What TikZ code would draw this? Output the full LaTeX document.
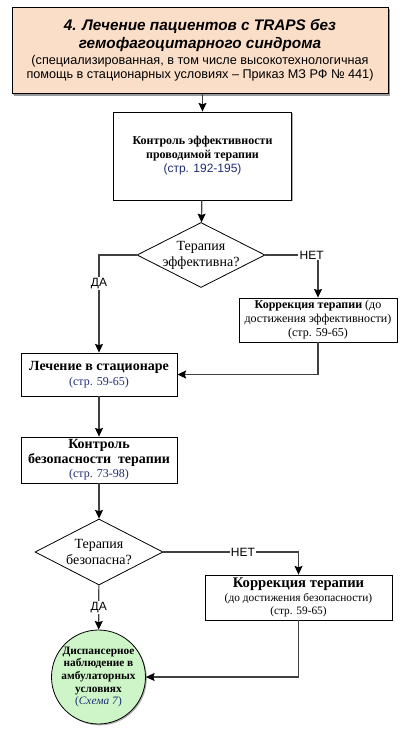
\documentclass[tikz,border=0pt]{standalone}
\usepackage{fontspec}
\setmainfont{Liberation Serif}
\setsansfont{Liberation Sans}
\usetikzlibrary{arrows.meta,shapes.geometric,shadows}

\definecolor{peach}{RGB}{251,222,200}
\definecolor{mint}{RGB}{206,245,200}
\definecolor{navy}{RGB}{30,45,115}
\definecolor{wire}{RGB}{64,64,64}

\begin{document}
\begin{tikzpicture}[->,>={Stealth[length=6.5pt,width=6pt,inset=1pt,color=black]},
                    x=0.75pt,y=-0.75pt,line width=0.9pt,draw=wire,
                    box/.style={rectangle,draw=black,line width=0.6pt,fill=white,
                                align=center,inner sep=1pt,
                                drop shadow={shadow xshift=1pt,shadow yshift=-1pt,
                                             fill=gray!65,opacity=1}},
                    choice/.style={diamond,draw=black,line width=0.6pt,fill=white,
                                   align=center,shape aspect=2,inner sep=-3pt,
                                   font=\rmfamily\fontsize{10.5}{12}\selectfont},
                    yn/.style={fill=white,inner sep=1pt,text=black,
                               font=\sffamily\fontsize{9}{10}\selectfont}]

  \useasboundingbox (0,0) rectangle (402,729);

  % header
  \node[box, fill=peach, minimum width=282pt, minimum height=65pt,
        font=\sffamily\fontsize{9.5}{11}\selectfont,
        drop shadow={shadow xshift=1.4pt,shadow yshift=-1.4pt,fill=gray!80,opacity=1}]
        (head) at (200,50.5)
        {{\bfseries\itshape\fontsize{11.5}{13.5}\selectfont 4. Лечение пациентов с TRAPS без}\\[2pt]
         {\bfseries\itshape\fontsize{11.5}{13.5}\selectfont гемофагоцитарного синдрома}\\[1pt]
         (специализированная, в том числе высокотехнологичная\\
         помощь в стационарных условиях -- Приказ МЗ РФ № 441)};

  \node[box, minimum width=134pt, minimum height=66pt,
        font=\fontsize{9}{10.5}\selectfont] (ctrl) at (202.5,156)
        {\textbf{Контроль эффективности}\\
         \textbf{проводимой терапии}\\
         {\sffamily\color{navy}(стр. 192-195)}};

  \node[choice, minimum width=96pt, minimum height=48.75pt] (d1) at (201,255)
        {Терапия\\эффективна?};

  \node[box, minimum width=118.5pt, minimum height=33pt,
        font=\fontsize{9}{10.5}\selectfont] (corr1) at (318,320)
        {\textbf{Коррекция терапии} (до\\
         достижения эффективности)\\
         (стр. 59-65)};

  \node[box, minimum width=117pt, minimum height=32.25pt,
        font=\fontsize{9}{11}\selectfont] (stat) at (99,374.5)
        {{\bfseries\fontsize{10.5}{12}\selectfont Лечение в стационаре}\\
         {\color{navy}(стр. 59-65)}};

  \node[box, minimum width=117pt, minimum height=34.5pt,
        font=\fontsize{10.5}{11}\selectfont] (safe) at (99,460)
        {\textbf{Контроль}\\
         \textbf{безопасности~~терапии}\\
         {\color{navy}\fontsize{9}{10}\selectfont (стр. 73-98)}};

  \node[choice, minimum width=96pt, minimum height=49.5pt] (d2) at (99,552)
        {Терапия\\безопасна?};

  \node[box, minimum width=140.25pt, minimum height=33.75pt,
        font=\fontsize{8.5}{10}\selectfont] (corr2) at (298.5,597.5)
        {{\bfseries\fontsize{11}{12.5}\selectfont Коррекция терапии}\\
         (до достижения безопасности)\\
         (стр. 59-65)};

  \node[box, circle, fill=mint, minimum size=70.5pt, inner sep=-6pt,
        font=\fontsize{8.5}{9.4}\selectfont] (obs) at (98.5,677)
        {\textbf{Диспансерное}\\
         \textbf{наблюдение в}\\
         \textbf{амбулаторных}\\
         \textbf{условиях}\\
         {\color{navy}(\textit{Схема 7})}};

  % connectors
  \draw (ctrl.north |- head.south) -- (ctrl.north);
  \draw (ctrl) -- (d1);
  \draw (d1.west) -| node[yn, pos=0.646] {ДА} (stat.north);
  \draw (d1.east) -| node[yn, pos=0.44] {НЕТ} (corr1.north);
  \draw (corr1.south) |- (stat.east);
  \draw (stat) -- (safe);
  \draw (safe) -- (d2);
  \draw (d2.east) -| node[yn, pos=0.294] {НЕТ} (corr2.north);
  \draw (d2) -- node[yn] {ДА} (obs);
  \draw (corr2.south) |- (obs.east);
\end{tikzpicture}
\end{document}
